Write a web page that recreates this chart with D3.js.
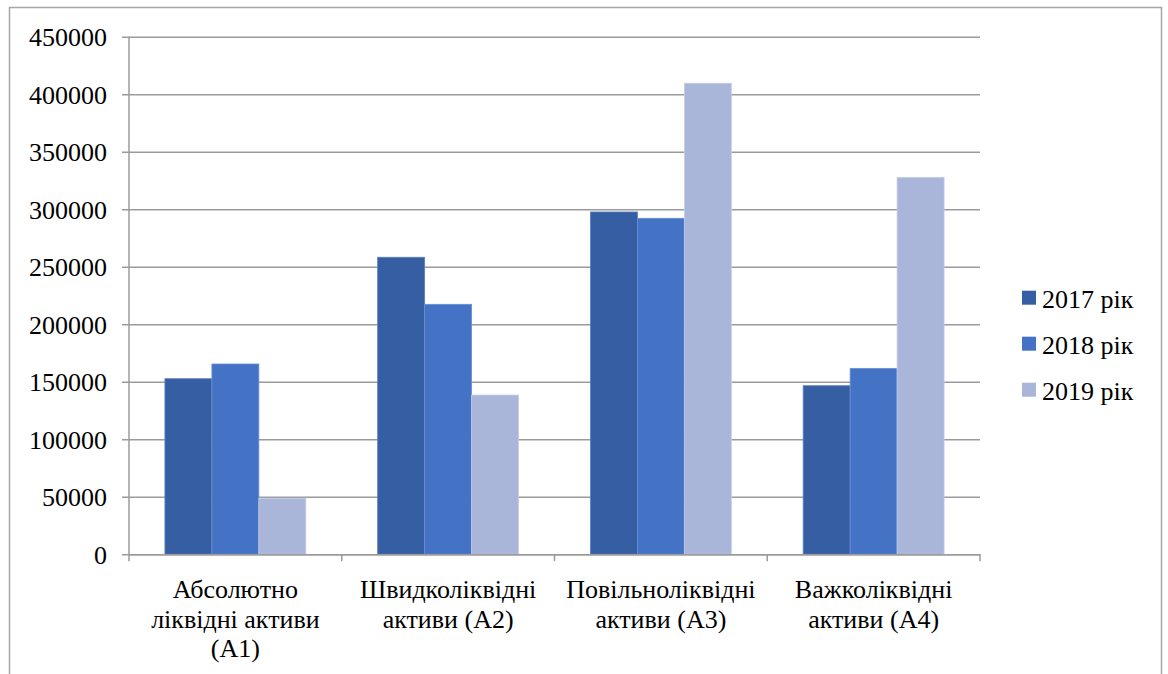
<!DOCTYPE html>
<html>
<head>
<meta charset="utf-8">
<script src="https://cdn.jsdelivr.net/npm/d3@7/dist/d3.min.js"></script>
<style>
  html, body { margin: 0; padding: 0; background: #fff; }
  svg { display: block; }
  svg text { font-family: 'Liberation Serif', 'Tinos', 'Times New Roman', 'DejaVu Serif', serif !important; fill: #000; }
</style>
</head>
<body>
<svg id="chart" width="1168" height="674"></svg>
<script>
// Liquidity groups of assets
const categories = [
  "Абсолютно ліквідні активи (А1)",
  "Швидколіквідні активи (А2)",
  "Повільноліквідні активи (А3)",
  "Важколіквідні активи (А4)"
];
const seriesNames = ["2017 рік", "2018 рік", "2019 рік"];
const values2017 = [152600, 258200, 297600, 146500];
const values2018 = [165400, 217300, 292100, 161600];
const values2019 = [48600, 138400, 409500, 327700];
const yTicks = [0, 50000, 100000, 150000, 200000, 250000, 300000, 350000, 400000, 450000];
const colors = ["#365FA3", "#4472C4", "#A9B6DA"];
const edgeColors = ["#5A7FBE", "#6A8FD3", "#C3CDE8"];

const seriesValues = [values2017, values2018, values2019];
const serif = "'Liberation Serif', 'Tinos', 'Times New Roman', 'DejaVu Serif', serif";

const svg = d3.select("#chart");

// outer frame
svg.append("rect")
  .attr("x", 9.5).attr("y", 7.5)
  .attr("width", 1152).attr("height", 700)
  .attr("fill", "none").attr("stroke", "#a6a6a6").attr("stroke-width", 1.5);

const plot = { left: 129, right: 980, top: 36.7, bottom: 554.2 };

const y = d3.scaleLinear().domain([0, 450000]).range([plot.bottom, plot.top]);
const x0 = d3.scaleBand().domain(categories).range([plot.left, plot.right]).paddingInner(0).paddingOuter(0);
const x1 = d3.scaleBand().domain(seriesNames).range([0, x0.bandwidth()]).paddingInner(0).paddingOuter(0.765);

// horizontal gridlines with left tick marks
const yAxis = d3.axisLeft(y).tickValues(yTicks).tickSize(-(plot.right - plot.left)).tickSizeOuter(0).tickPadding(15).tickFormat(d3.format("d"));
const gy = svg.append("g").attr("transform", `translate(${plot.left},0)`).call(yAxis)
  .attr("font-family", serif);
gy.select(".domain").remove();
gy.selectAll(".tick line").attr("stroke", "#9b9b9b").attr("stroke-width", 1.5).attr("x1", -7);
gy.selectAll(".tick text").attr("font-size", 26).attr("dy", "0.34em").attr("x", -22)
  .attr("font-family", serif).attr("fill", "#000");

// bars
const groups = svg.append("g").selectAll("g")
  .data(categories)
  .join("g")
  .attr("transform", d => `translate(${x0(d)},0)`);

groups.selectAll("rect")
  .data((c, ci) => seriesNames.map((s, si) => ({ s, si, v: seriesValues[si][ci] })))
  .join("rect")
  .attr("x", d => x1(d.s))
  .attr("y", d => y(d.v))
  .attr("width", x1.bandwidth())
  .attr("height", d => y(0) - y(d.v))
  .attr("fill", d => colors[d.si])
  .attr("stroke", d => edgeColors[d.si])
  .attr("stroke-width", 0.8);

// y axis line
svg.append("line")
  .attr("x1", plot.left).attr("x2", plot.left)
  .attr("y1", plot.top).attr("y2", plot.bottom)
  .attr("stroke", "#9b9b9b").attr("stroke-width", 1.5);

// category axis
const xAxis = d3.axisBottom(x0).tickSize(0).tickFormat("");
const gx = svg.append("g").attr("transform", `translate(0,${plot.bottom})`).call(xAxis);
gx.select(".domain").attr("stroke", "#9b9b9b").attr("stroke-width", 1.5);
gx.selectAll(".tick").remove();

const boundaries = categories.map(c => x0(c)).concat([plot.right]);
gx.selectAll("line.sep").data(boundaries).join("line")
  .attr("class", "sep")
  .attr("x1", d => d).attr("x2", d => d)
  .attr("y1", 0).attr("y2", 7)
  .attr("stroke", "#9b9b9b").attr("stroke-width", 1.5);

// wrapped category labels
const labels = svg.append("g").attr("font-family", serif);
categories.forEach(c => {
  const cx = x0(c) + x0.bandwidth() / 2;
  const t = labels.append("text")
    .attr("x", cx).attr("y", 598)
    .attr("text-anchor", "middle")
    .attr("font-family", serif)
    .attr("font-size", 26);
  const words = c.split(" ");
  const maxW = x0.bandwidth() - 10;
  let line = [];
  let tspan = t.append("tspan").attr("x", cx).attr("dy", 0);
  words.forEach(w => {
    line.push(w);
    tspan.text(line.join(" "));
    if (tspan.node().getComputedTextLength() > maxW && line.length > 1) {
      line.pop();
      tspan.text(line.join(" "));
      line = [w];
      tspan = t.append("tspan").attr("x", cx).attr("dy", 29.5).text(w);
    }
  });
});

// legend
const legend = svg.append("g").attr("transform", "translate(1022,290.7)");
const items = legend.selectAll("g").data(seriesNames).join("g")
  .attr("transform", (d, i) => `translate(0,${i * 46})`);
items.append("rect")
  .attr("width", 14).attr("height", 14)
  .attr("fill", (d, i) => colors[i]);
items.append("text")
  .attr("x", 20).attr("y", 17.5)
  .attr("font-family", serif)
  .attr("font-size", 26)
  .text(d => d);
</script>
</body>
</html>
